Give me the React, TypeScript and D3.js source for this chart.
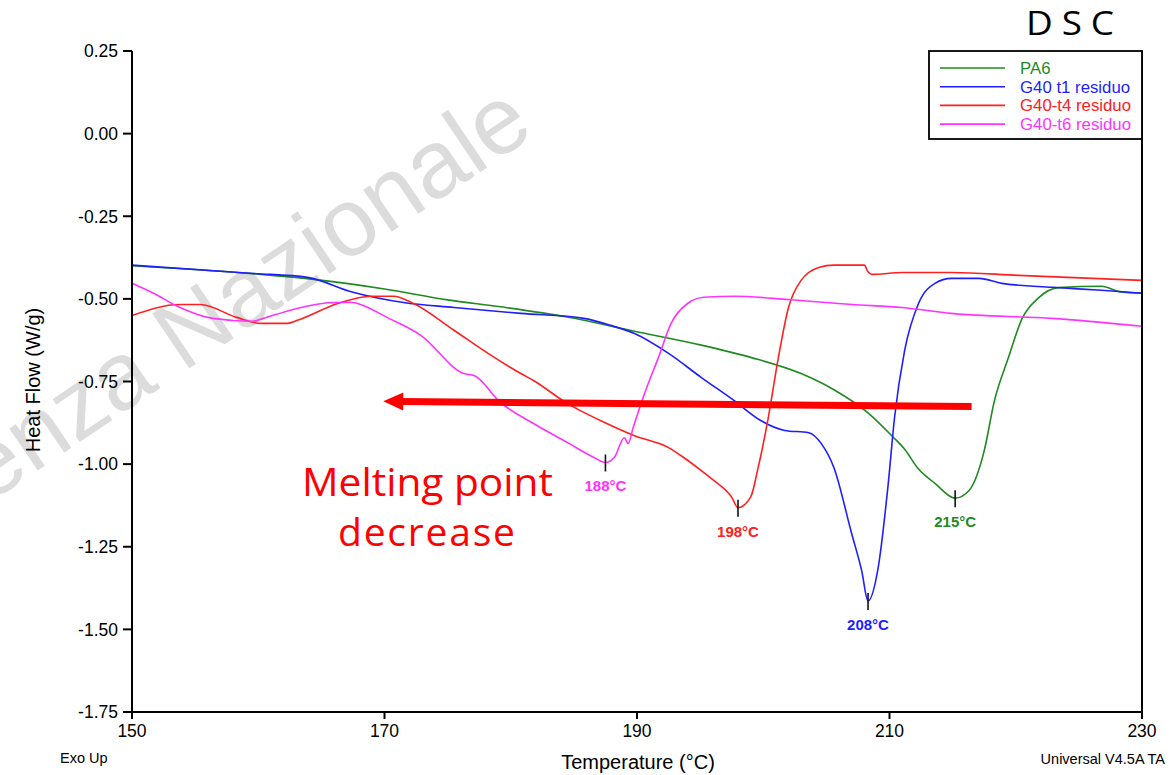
import React from "react";
import * as d3 from "d3";

type Pt = [number, number];

// ---- data (Temperature °C, Heat Flow W/g) ----
const pa6: Pt[] = [
  [150, -0.4], [155, -0.411], [160, -0.425], [164.4, -0.441], [170, -0.47], [175, -0.503],
  [179.2, -0.524], [184.5, -0.555], [189.8, -0.598], [195.1, -0.64], [199, -0.677], [203, -0.726],
  [205.6, -0.775], [208.3, -0.845], [210.2, -0.915], [211.2, -0.955], [212.3, -1.015], [213.6, -1.058],
  [215.2, -1.103], [216.3, -1.08], [217.5, -0.96], [218.3, -0.81], [219.4, -0.68], [220.5, -0.56],
  [221.8, -0.497], [223.4, -0.466], [226.8, -0.462], [228.2, -0.478], [230, -0.483],
];
const g40t1: Pt[] = [
  [150, -0.398], [159.6, -0.423], [163.9, -0.435], [167.5, -0.48], [171.5, -0.511], [175.5, -0.526],
  [180.8, -0.544], [185.8, -0.559], [187.9, -0.58], [189.8, -0.605], [192.5, -0.665], [195.1, -0.738],
  [197.7, -0.808], [199.8, -0.868], [201.7, -0.898], [203.6, -0.905], [204.6, -0.938], [205.6, -1.011],
  [207, -1.21], [207.8, -1.323], [208.3, -1.414], [209.1, -1.314], [209.9, -1.059], [210.4, -0.859],
  [211.2, -0.656], [212.3, -0.514], [213.6, -0.453], [214.9, -0.438], [217.1, -0.438], [218.9, -0.453],
  [222.9, -0.465], [226.8, -0.474], [230, -0.483],
];
const g40t4: Pt[] = [
  [150, -0.55], [153.8, -0.517], [155.4, -0.517], [158.3, -0.556], [160.2, -0.574], [162.3, -0.574],
  [163.1, -0.565], [166.3, -0.514], [168.9, -0.492], [170.7, -0.492], [172.3, -0.514], [175.5, -0.595],
  [178.2, -0.665], [180.8, -0.726], [181.8, -0.747], [184.5, -0.817], [187.1, -0.868], [189.8, -0.914],
  [192.5, -0.95], [193.7, -0.98], [195.1, -1.02], [196.1, -1.05], [197.5, -1.1], [198.0, -1.132],
  [199.0, -1.1], [199.6, -1.01], [200.4, -0.859], [201.2, -0.677], [202, -0.526], [203, -0.444],
  [204.4, -0.405], [205.6, -0.398], [208, -0.398], [208.3, -0.418], [208.6, -0.426], [211, -0.42],
  [214.9, -0.42], [220.2, -0.429], [230, -0.444],
];
const g40t6: Pt[] = [
  [150, -0.453], [151.7, -0.483], [153.8, -0.526], [156.4, -0.559], [159.6, -0.568], [160.4, -0.559],
  [163.1, -0.529], [166, -0.511], [167.5, -0.511], [168.3, -0.52], [170.2, -0.556], [172.9, -0.611],
  [176.3, -0.726], [177.1, -0.732], [179.2, -0.814], [181.8, -0.877], [184.5, -0.935], [186.6, -0.98],
  [187.5, -0.995], [188.2, -0.98], [189, -0.92], [189.3, -0.938], [189.7, -0.889], [190.6, -0.786],
  [191.7, -0.677], [192.7, -0.574], [194, -0.514], [195.3, -0.495], [197.7, -0.492], [202, -0.502],
  [207, -0.517], [211, -0.526], [214.9, -0.544], [222.9, -0.559], [230, -0.583],
];

const seriesNames = ["PA6", "G40 t1 residuo", "G40-t4 residuo", "G40-t6 residuo"];
const seriesData = [pa6, g40t1, g40t4, g40t6];
const seriesColors = ["#1f8a1f", "#1e1eff", "#ff2020", "#ff33ff"];

// peaks
const peakT = [215.2, 208.3, 198.0, 187.5];
const peakV = [-1.103, -1.414, -1.132, -0.995];
const peakLabels = ["215°C", "208°C", "198°C", "188°C"];

const xTicks = [150, 170, 190, 210, 230];
const yTicks = [0.25, 0, -0.25, -0.5, -0.75, -1.0, -1.25, -1.5, -1.75];
const yTickLabels = ["0.25", "0.00", "-0.25", "-0.50", "-0.75", "-1.00", "-1.25", "-1.50", "-1.75"];

// arrow annotation (tail -> tip) in data units
const arrowTail: Pt = [216.5, -0.826];
const arrowTip: Pt = [169.9, -0.81];

const W = 1173;
const H = 775;
const L = 132, R = 1142, T = 51, B = 712;
const FONT = "'Liberation Sans', Arial, sans-serif";

export default function App() {
  const x = d3.scaleLinear().domain([150, 230]).range([L, R]);
  const y = d3.scaleLinear().domain([-1.75, 0.25]).range([B, T]);
  const line = d3
    .line<Pt>()
    .x((d) => x(d[0]))
    .y((d) => y(d[1]))
    .curve(d3.curveMonotoneX);

  const tx = x(arrowTail[0]), ty = y(arrowTail[1]);
  const px = x(arrowTip[0]), py = y(arrowTip[1]);
  const ang = Math.atan2(py - ty, px - tx);
  const headLen = 20, headHalf = 9;
  const bx = px - headLen * Math.cos(ang), by = py - headLen * Math.sin(ang);
  const nx = -Math.sin(ang), ny = Math.cos(ang);
  const head = `${px},${py} ${bx + nx * headHalf},${by + ny * headHalf} ${bx - nx * headHalf},${by - ny * headHalf}`;

  return (
    <svg
      width={W}
      height={H}
      style={{ position: "absolute", left: 0, top: 0, background: "#fff" }}
      fontFamily={FONT}
    >
      <rect x={0} y={0} width={W} height={H} fill="#fff" />
      {/* watermark */}
      <text
        x={-12}
        y={504}
        transform="rotate(-34 -12 504)"
        fontSize={96}
        fill="#dcdcdc"
        fontFamily={FONT}
      >
        enza Nazionale
      </text>

      {seriesData.map((d, i) => (
        <path key={i} d={line(d) || ""} fill="none" stroke={seriesColors[i]} strokeWidth={1.6} />
      ))}

      <line x1={L} y1={T} x2={L} y2={B + 7} stroke="#000" strokeWidth={2} />
      <line x1={L - 9} y1={B} x2={R} y2={B} stroke="#000" strokeWidth={2} />
      <line x1={R} y1={T} x2={R} y2={B + 7} stroke="#000" strokeWidth={2} />

      {yTicks.map((v, i) => (
        <g key={"y" + i}>
          <line x1={L - 9} x2={L} y1={y(v)} y2={y(v)} stroke="#000" strokeWidth={2} />
          <text x={118} y={y(v)} dy="0.36em" textAnchor="end" fontSize={17.5} fill="#000">
            {yTickLabels[i]}
          </text>
        </g>
      ))}
      {xTicks.map((v, i) => (
        <g key={"x" + i}>
          <line x1={x(v)} x2={x(v)} y1={B} y2={B + 7} stroke="#000" strokeWidth={2} />
          <text x={x(v)} y={737} textAnchor="middle" fontSize={17.5} fill="#000">
            {v}
          </text>
        </g>
      ))}

      <text x={638} y={769} textAnchor="middle" fontSize={20} fill="#000">
        Temperature (°C)
      </text>
      <text x={40} y={380} transform="rotate(-90 40 380)" textAnchor="middle" fontSize={20} fill="#000">
        Heat Flow (W/g)
      </text>
      <text x={60} y={763} fontSize={14.5} fill="#000">
        Exo Up
      </text>
      <text x={1165} y={764} textAnchor="end" fontSize={14.5} fill="#000">
        Universal V4.5A TA
      </text>

      <rect x={929} y={51} width={213} height={88} fill="#fff" stroke="#000" strokeWidth={1.8} />
      {seriesNames.map((n, i) => (
        <g key={"l" + i}>
          <line x1={940} x2={1005} y1={68 + i * 18.7} y2={68 + i * 18.7} stroke={seriesColors[i]} strokeWidth={1.6} />
          <text x={1020} y={68 + i * 18.7} dy="0.36em" fontSize={16.8} fill={seriesColors[i]}>
            {n}
          </text>
        </g>
      ))}

      {peakT.map((t, i) => (
        <g key={"p" + i}>
          <line x1={x(t)} x2={x(t)} y1={y(peakV[i]) - 8} y2={y(peakV[i]) + 9} stroke="#111" strokeWidth={1.6} />
          <text x={x(t)} y={y(peakV[i]) + 29} textAnchor="middle" fontSize={15} fontWeight="bold" fill={seriesColors[i]}>
            {peakLabels[i]}
          </text>
        </g>
      ))}

      <line x1={tx} y1={ty} x2={bx + 2 * Math.cos(ang)} y2={by + 2 * Math.sin(ang)} stroke="#ff0000" strokeWidth={7} />
      <polygon points={head} fill="#ff0000" />

      <text x={302} y={496} fontSize={39} fill="#ff0000" fontFamily="'Open Sans', sans-serif" textLength={251} lengthAdjust="spacingAndGlyphs">
        Melting point
      </text>
      <text x={338} y={546} fontSize={39} fill="#ff0000" fontFamily="'Open Sans', sans-serif" textLength={177} lengthAdjust="spacing">
        decrease
      </text>

      <text x={1026} y={35} fontSize={33} fill="#000" fontFamily="'Open Sans', sans-serif" letterSpacing={8} textLength={97} lengthAdjust="spacingAndGlyphs">
        DSC
      </text>
    </svg>
  );
}
